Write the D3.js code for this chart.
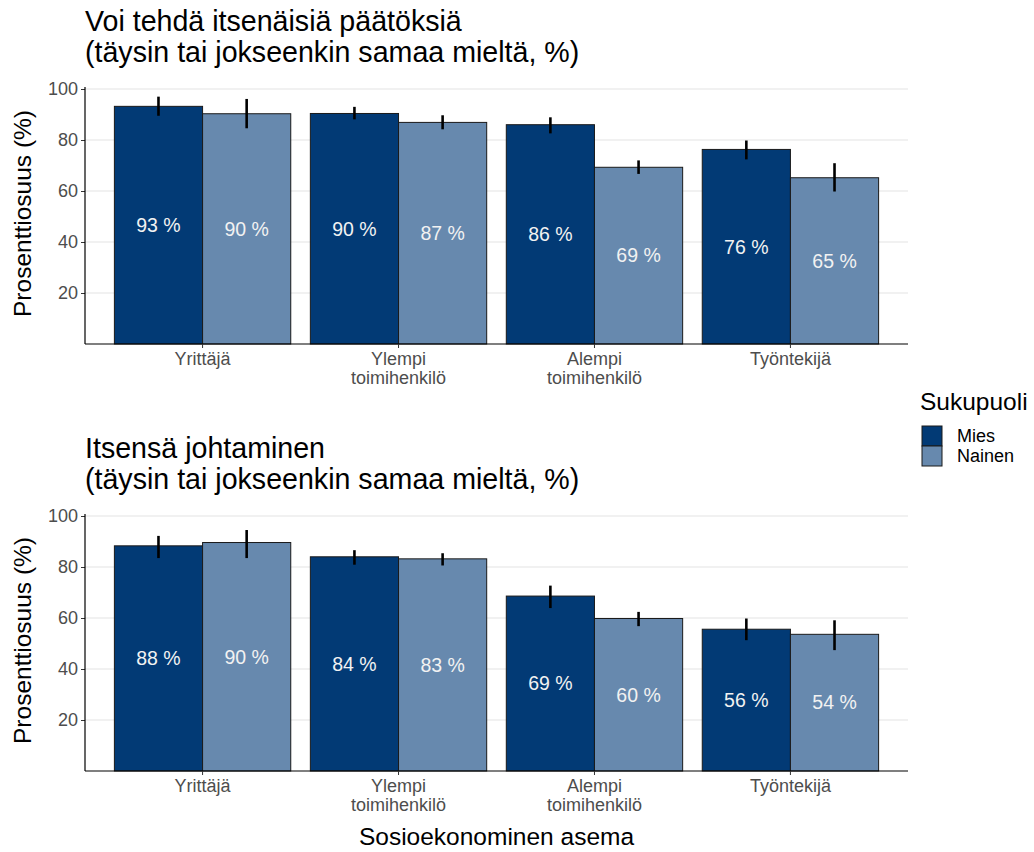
<!DOCTYPE html>
<html>
<head>
<meta charset="utf-8">
<script src="https://cdn.jsdelivr.net/npm/d3@7"></script>
<style>
  html, body { margin: 0; padding: 0; background: #ffffff; }
  svg { display: block; font-family: "Liberation Sans", Arial, sans-serif; }
</style>
</head>
<body>
<svg id="chart" width="1034" height="852"></svg>
<script>
// Socio-economic position categories (line breaks split with "\n")
const categories = ["Yrittäjä", "Ylempi\ntoimihenkilö", "Alempi\ntoimihenkilö", "Työntekijä"];
const genders = ["Mies", "Nainen"];
const yTicks = [20, 40, 60, 80, 100];

// Panel 1: can make independent decisions
const decisionTitle = ["Voi tehdä itsenäisiä päätöksiä", "(täysin tai jokseenkin samaa mieltä, %)"];
const decisionMies = [93.2, 90.4, 86.0, 76.3];
const decisionMiesLow = [89.5, 88.1, 82.6, 72.4];
const decisionMiesHigh = [97.0, 93.0, 88.9, 79.8];
const decisionNainen = [90.3, 86.9, 69.3, 65.2];
const decisionNainenLow = [84.6, 84.2, 66.7, 59.8];
const decisionNainenHigh = [96.1, 89.7, 72.0, 70.9];

// Panel 2: self-management
const selfTitle = ["Itsensä johtaminen", "(täysin tai jokseenkin samaa mieltä, %)"];
const selfMies = [88.3, 84.0, 68.6, 55.6];
const selfMiesLow = [83.5, 80.9, 63.9, 51.3];
const selfMiesHigh = [92.2, 86.6, 72.7, 59.8];
const selfNainen = [89.6, 83.2, 59.8, 53.6];
const selfNainenLow = [83.5, 80.6, 56.8, 47.4];
const selfNainenHigh = [94.5, 85.4, 62.4, 59.1];

const colors = { "Mies": "#023a75", "Nainen": "#6789ae" };

const svg = d3.select("#chart");
const plotLeft = 85, plotRight = 908;

function buildRows(mies, miesLo, miesHi, nainen, naiLo, naiHi) {
  const rows = [];
  categories.forEach((c, i) => {
    rows.push({ cat: c, gender: "Mies", value: mies[i], lo: miesLo[i], hi: miesHi[i] });
    rows.push({ cat: c, gender: "Nainen", value: nainen[i], lo: naiLo[i], hi: naiHi[i] });
  });
  return rows;
}

function drawPanel(top, bottom, titleLines, rows) {
  const g = svg.append("g");

  // Title
  g.append("text")
    .attr("x", plotLeft).attr("y", top - 58)
    .attr("font-size", 28.6).attr("fill", "#000")
    .selectAll("tspan").data(titleLines).join("tspan")
    .attr("x", plotLeft).attr("dy", (d, i) => i === 0 ? 0 : 31)
    .text(d => d);

  const y = d3.scaleLinear().domain([0, 100]).range([bottom, top]);
  // Discrete x positions: 0.6 unit expansion each side, bars 0.9 wide (dodged)
  const x = d3.scalePoint().domain(categories).range([plotLeft, plotRight]).padding(0.6);
  const unit = x.step();
  const barW = 0.45 * unit;

  // Horizontal grid lines
  g.append("g").selectAll("line").data(yTicks).join("line")
    .attr("x1", plotLeft).attr("x2", plotRight)
    .attr("y1", d => y(d)).attr("y2", d => y(d))
    .attr("stroke", "#e3e3e3").attr("stroke-width", 1.1);

  // Bars
  const barX = d => x(d.cat) + (d.gender === "Mies" ? -barW : 0);
  g.append("g").selectAll("rect").data(rows).join("rect")
    .attr("x", barX)
    .attr("y", d => y(d.value))
    .attr("width", barW)
    .attr("height", d => y(0) - y(d.value))
    .attr("fill", d => colors[d.gender])
    .attr("stroke", "#1a1a1a").attr("stroke-width", 1);

  // Confidence intervals
  g.append("g").selectAll("line").data(rows).join("line")
    .attr("x1", d => barX(d) + barW / 2).attr("x2", d => barX(d) + barW / 2)
    .attr("y1", d => y(d.lo)).attr("y2", d => y(d.hi))
    .attr("stroke", "#000").attr("stroke-width", 2.6);

  // Value labels at half the bar height
  g.append("g").selectAll("text").data(rows).join("text")
    .attr("x", d => barX(d) + barW / 2)
    .attr("y", d => y(d.value / 2))
    .attr("dy", "0.35em")
    .attr("text-anchor", "middle")
    .attr("font-size", 19.5).attr("fill", "#f2f2f2")
    .text(d => Math.round(d.value) + " %");

  // Y axis
  const yAxis = g.append("g").attr("transform", `translate(${plotLeft},0)`)
    .call(d3.axisLeft(y).tickValues(yTicks).tickSize(4).tickPadding(3));
  yAxis.select(".domain").remove();
  yAxis.selectAll(".tick line").attr("stroke", "#333").attr("stroke-width", 1);
  yAxis.selectAll(".tick text").attr("font-size", 18).attr("fill", "#4d4d4d")
    .attr("font-family", "Liberation Sans, Arial, sans-serif");
  g.append("line").attr("x1", plotLeft).attr("x2", plotLeft)
    .attr("y1", top - 2).attr("y2", bottom)
    .attr("stroke", "#000").attr("stroke-width", 1.2);

  // X axis line and ticks
  g.append("line").attr("x1", plotLeft).attr("x2", plotRight)
    .attr("y1", bottom).attr("y2", bottom)
    .attr("stroke", "#000").attr("stroke-width", 1.2);
  g.append("g").selectAll("line").data(categories).join("line")
    .attr("x1", d => x(d)).attr("x2", d => x(d))
    .attr("y1", bottom).attr("y2", bottom + 4)
    .attr("stroke", "#333");
  const xl = g.append("g").selectAll("text").data(categories).join("text")
    .attr("x", d => x(d)).attr("y", bottom + 21)
    .attr("text-anchor", "middle").attr("font-size", 18).attr("fill", "#4d4d4d");
  xl.selectAll("tspan").data(d => d.split("\n")).join("tspan")
    .attr("x", function () { return d3.select(this.parentNode).attr("x"); })
    .attr("dy", (d, i) => i === 0 ? 0 : 18.5)
    .text(d => d);

  // Y axis title
  g.append("text")
    .attr("transform", `translate(31,${(top + bottom) / 2 - 3}) rotate(-90)`)
    .attr("text-anchor", "middle").attr("font-size", 24.5).attr("fill", "#000")
    .text("Prosenttiosuus (%)");
}

drawPanel(89, 344, decisionTitle,
  buildRows(decisionMies, decisionMiesLow, decisionMiesHigh, decisionNainen, decisionNainenLow, decisionNainenHigh));
drawPanel(516, 771, selfTitle,
  buildRows(selfMies, selfMiesLow, selfMiesHigh, selfNainen, selfNainenLow, selfNainenHigh));

// X axis title
svg.append("text")
  .attr("x", (plotLeft + plotRight) / 2).attr("y", 845)
  .attr("text-anchor", "middle").attr("font-size", 24.5).attr("fill", "#000")
  .text("Sosioekonominen asema");

// Legend
const legend = svg.append("g");
legend.append("text").attr("x", 920).attr("y", 410)
  .attr("font-size", 24.5).attr("fill", "#000").text("Sukupuoli");
const items = legend.selectAll("g.item").data(genders).join("g")
  .attr("class", "item")
  .attr("transform", (d, i) => `translate(922,${426 + i * 20})`);
items.append("rect").attr("width", 20).attr("height", 20)
  .attr("fill", d => colors[d]).attr("stroke", "#1a1a1a").attr("stroke-width", 1);
items.append("text").attr("x", 35).attr("y", 16)
  .attr("font-size", 18).attr("fill", "#000").text(d => d);
</script>
</body>
</html>
